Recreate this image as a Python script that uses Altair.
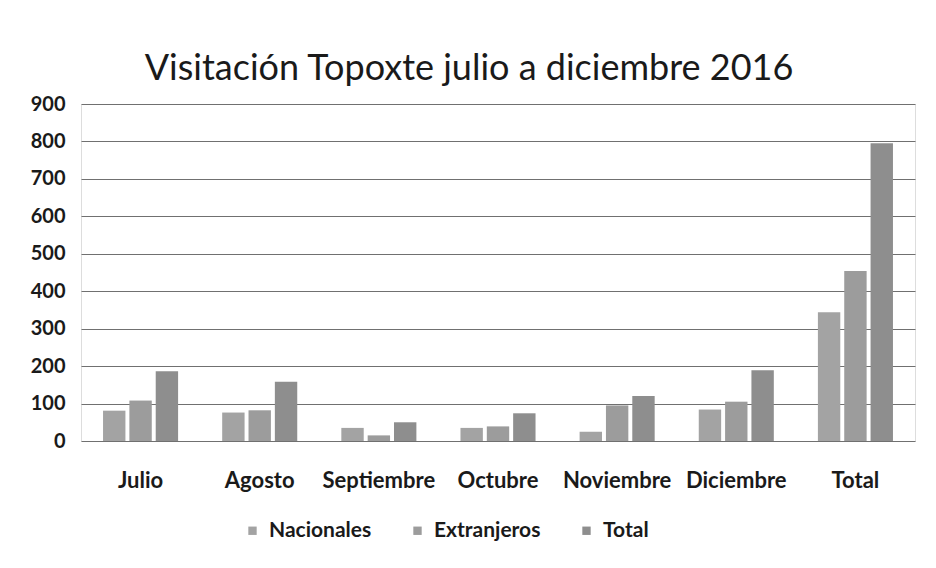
import altair as alt
import pandas as pd

categories = ["Julio", "Agosto", "Septiembre", "Octubre", "Noviembre", "Diciembre", "Total"]
series = ["Nacionales", "Extranjeros", "Total"]
nacionales = [81, 76, 35, 35, 25, 84, 344]
extranjeros = [108, 82, 15, 39, 95, 105, 454]
total = [186, 158, 50, 74, 120, 189, 795]
y_ticks = [0, 100, 200, 300, 400, 500, 600, 700, 800, 900]

rows = []
for i, c in enumerate(categories):
    for s, vals in zip(series, [nacionales, extranjeros, total]):
        rows.append({"mes": c, "serie": s, "valor": vals[i]})
df = pd.DataFrame(rows)

FONT = "Lato"

chart = alt.Chart(df).mark_bar().encode(
    x=alt.X("mes:N", sort=categories, title=None,
            scale=alt.Scale(paddingInner=0.37, paddingOuter=0.185),
            axis=alt.Axis(labelAngle=0, labelFontSize=22, labelFontWeight="bold",
                          labelFont=FONT, labelColor="#1a1a1a", labelPadding=29,
                          ticks=False, domain=False)),
    xOffset=alt.XOffset("serie:N", sort=series,
                        scale=alt.Scale(paddingInner=0.15, paddingOuter=0)),
    y=alt.Y("valor:Q", title=None,
            scale=alt.Scale(domain=[0, 900], nice=False),
            axis=alt.Axis(values=y_ticks, labelFontSize=20, labelFontWeight="bold",
                          labelFont=FONT, labelColor="#1a1a1a", labelPadding=16,
                          ticks=False, domain=False, gridColor="#707070",
                          gridWidth=1)),
    color=alt.Color("serie:N", sort=series,
                    scale=alt.Scale(domain=series,
                                    range=["#a3a3a3", "#9c9c9c", "#8e8e8e"]),
                    legend=alt.Legend(title=None, orient="none", direction="horizontal",
                                      legendX=161, legendY=416,
                                      labelFontSize=21, labelFontWeight="bold",
                                      labelFont=FONT, labelColor="#1a1a1a",
                                      symbolType="square", symbolSize=70,
                                      symbolStrokeWidth=0, columnPadding=35,
                                      labelOffset=6)),
).properties(
    width=834,
    height=337,
    title=alt.TitleParams(
        text="Visitación Topoxte julio a diciembre 2016",
        font=FONT, fontSize=36, fontWeight="normal", color="#1a1a1a",
        anchor="middle", frame="group", baseline="alphabetic", offset=24,
        dx=-29, dy=46,
    ),
    autosize=alt.AutoSizeParams(type="none"),
    padding={"left": 73, "top": 96, "right": 13, "bottom": 119},
).configure_view(stroke=None).configure(background="white")

chart.save("out.html", embed_options={"renderer": "svg", "actions": False})
